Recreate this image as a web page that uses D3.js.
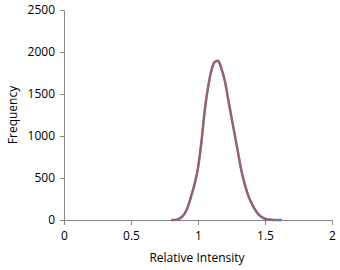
<!DOCTYPE html>
<html>
<head>
<meta charset="utf-8">
<script src="https://cdn.jsdelivr.net/npm/d3@7"></script>
<style>
  body { margin: 0; background: #fff; }
  text { font-family: "Open Sans", "Liberation Sans", sans-serif; fill: #000; }
</style>
</head>
<body>
<div id="chart"></div>
<script>
// relative intensity bins and frequencies
const intensity = [0.800, 0.825, 0.850, 0.875, 0.900, 0.925, 0.950, 0.975, 1.000, 1.025, 1.050, 1.075,
    1.100, 1.125, 1.150, 1.175, 1.200, 1.225, 1.250, 1.275, 1.300, 1.325, 1.350, 1.375,
    1.400, 1.425, 1.450, 1.475, 1.500, 1.525, 1.550, 1.575, 1.600, 1.625]
const measured = [0, 0, 8, 30, 75, 160, 290, 430, 620, 920, 1300, 1580,
    1780, 1880, 1895, 1800, 1660, 1440, 1220, 1010, 790, 580, 420, 290,
    200, 125, 70, 35, 15, 5, 2, 0, 0, 0]
const fitted = [0, 0, 8, 30, 75, 160, 290, 430, 620, 920, 1300, 1580,
    1780, 1880, 1895, 1800, 1660, 1440, 1220, 1010, 790, 580, 420, 290,
    200, 125, 70, 35, 15, 5, 2, 0]
const xTicks = [0, 0.5, 1, 1.5, 2]
const yTicks = [0, 500, 1000, 1500, 2000, 2500]

const width = 340, height = 270
const margin = {top: 10, right: 8, bottom: 50, left: 64}

const svg = d3.select("#chart").append("svg")
    .attr("width", width)
    .attr("height", height)

const x = d3.scaleLinear().domain([0, 2]).range([margin.left, width - margin.right])
const y = d3.scaleLinear().domain([0, 2500]).range([height - margin.bottom, margin.top])

svg.append("g")
    .attr("transform", "translate(0," + y(0) + ")")
    .call(d3.axisBottom(x).tickValues(xTicks).tickSize(5).tickPadding(6).tickFormat(d3.format("")))
svg.append("g")
    .attr("transform", "translate(" + x(0) + ",0)")
    .call(d3.axisLeft(y).tickValues(yTicks).tickSize(4).tickPadding(5).tickFormat(d3.format("d")))

svg.selectAll(".domain, .tick line").attr("stroke", "#868686")
svg.selectAll(".tick text").style("font-size", "12px").attr("fill", "#000")

const line = d3.line()
    .x((d, i) => x(intensity[i]))
    .y(d => y(d))
    .curve(d3.curveMonotoneX)

svg.append("path")
    .attr("d", line(measured))
    .attr("fill", "none")
    .attr("stroke", "#4f81bd")
    .attr("stroke-width", 2.5)

svg.append("path")
    .attr("d", line(fitted))
    .attr("fill", "none")
    .attr("stroke", "#c0504d")
    .attr("stroke-opacity", 0.75)
    .attr("stroke-width", 2)

svg.append("text")
    .attr("x", (x(0) + x(2)) / 2 - 1)
    .attr("y", 262)
    .attr("text-anchor", "middle")
    .style("font-size", "12px")
    .text("Relative Intensity")

svg.append("text")
    .attr("transform", "translate(17," + y(1250) + ") rotate(-90)")
    .attr("text-anchor", "middle")
    .style("font-size", "12px")
    .text("Frequency")
</script>
</body>
</html>
